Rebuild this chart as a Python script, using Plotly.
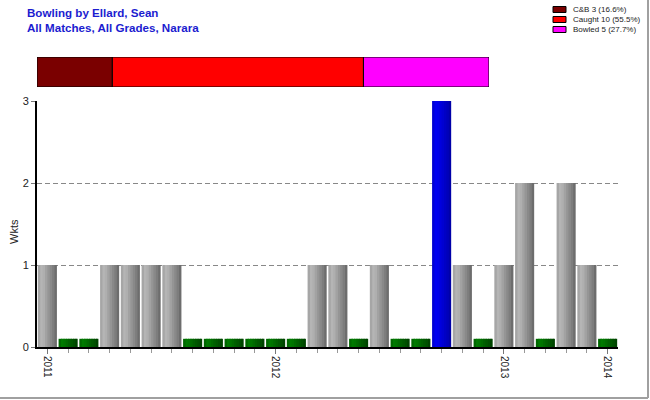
import math
import plotly.graph_objects as go

# ---------------- data ----------------
match_index = list(range(28))
wickets = [1, 0, 0, 1, 1, 1, 1, 0, 0, 0, 0, 0, 0, 1, 1, 0, 1, 0, 0, 3, 1, 0, 1, 2, 0, 2, 1, 0]
year_tick_pos = [0, 11, 22, 27]
year_tick_text = ["2011", "2012", "2013", "2014"]

dismissal_names = ["C&B", "Caught", "Bowled"]
dismissal_counts = [3, 10, 5]
dismissal_colors = ["#7a0000", "#ff0000", "#ff00ff"]

title_lines = ["Bowling by Ellard, Sean", "All Matches, All Grades, Narara"]

# ---------------- geometry helpers ----------------
W, H = 650, 400
L, R, T, B = 37, 618, 57, 347     # plot area in pixels
PW, PH = R - L, B - T


def px(x):
    return (x - L) / PW


def py(y):
    return (B - y) / PH


FONT = "Liberation Sans, Arial, sans-serif"

# styles
ZERO_STUB = 0.1
BAR_W = 0.92
gray_shades = ["#a6a6a6", "#b5b5b5", "#afafaf", "#a2a2a2", "#959595", "#898989", "#7d7d7d", "#6d6d6d"]
green_shades = ["#006800", "#007a00", "#007400", "#006a00", "#006000", "#005800", "#005000", "#004400"]
blue_shades = ["#0000d4", "#0000f0", "#0000ea", "#0000de", "#0000d2", "#0000c6", "#0000ba", "#0000a8"]
best = max(wickets)

fig = go.Figure()

n = len(gray_shades)
stripe = BAR_W / n
heights = [w if w > 0 else ZERO_STUB for w in wickets]
for k in range(n):
    cols = []
    for w in wickets:
        if w == 0:
            cols.append(green_shades[k])
        elif w == best:
            cols.append(blue_shades[k])
        else:
            cols.append(gray_shades[k])
    width = stripe * 1.6 if k < n - 1 else stripe
    fig.add_trace(go.Bar(
        x=match_index, y=heights, width=width,
        offset=-BAR_W / 2 + k * stripe,
        marker=dict(color=cols, line=dict(width=0)),
        showlegend=False, hoverinfo="skip", xaxis="x", yaxis="y",
    ))

# dismissal proportion bar
total = sum(dismissal_counts)
base = 0
for name, c, col in zip(dismissal_names, dismissal_counts, dismissal_colors):
    fig.add_trace(go.Bar(
        x=[c], y=[0], base=[base], orientation="h", width=1,
        marker=dict(color=col, line=dict(color="black", width=1)),
        showlegend=False, hoverinfo="skip", xaxis="x2", yaxis="y2",
    ))
    base += c

shapes = []
annotations = []

# manual legend
for i, (name, c, col) in enumerate(zip(dismissal_names, dismissal_counts, dismissal_colors)):
    pct = math.floor(c * 1000 / total) / 10
    y0 = 6.5 + 10 * i
    shapes.append(dict(type="rect", xref="paper", yref="paper",
                       x0=px(553), x1=px(566), y0=py(y0), y1=py(y0 + 6),
                       fillcolor=col, line=dict(color="black", width=1)))
    annotations.append(dict(xref="paper", yref="paper", x=px(571), y=py(y0 + 3),
                            xanchor="left", yanchor="middle", showarrow=False,
                            text=f"{name} {c} ({pct}%)",
                            font=dict(family=FONT, size=8, color="#222222")))

# titles
for i, t in enumerate(title_lines):
    annotations.append(dict(xref="paper", yref="paper", x=px(25), y=py(12 + 15 * i),
                            xanchor="left", yanchor="middle", showarrow=False,
                            text=f"<b>{t}</b>",
                            font=dict(family=FONT, size=11.6, color="#1c1cd0")))

# y axis title
annotations.append(dict(xref="paper", yref="paper", x=px(14), y=py(232),
                        xanchor="center", yanchor="middle", showarrow=False,
                        text="Wkts", textangle=-90,
                        font=dict(family=FONT, size=11, color="#222222")))

# outer frame (right & bottom)
shapes.append(dict(type="line", xref="paper", yref="paper",
                   x0=px(648), x1=px(648), y0=py(0), y1=py(398),
                   line=dict(color="#a0a0a0", width=2)))
shapes.append(dict(type="line", xref="paper", yref="paper",
                   x0=px(0), x1=px(648), y0=py(398), y1=py(398),
                   line=dict(color="#a0a0a0", width=2)))

main_top = py(101)
fig.update_layout(
    width=W, height=H,
    margin=dict(l=L, r=W - R, t=T, b=H - B, pad=0),
    paper_bgcolor="white", plot_bgcolor="white",
    barmode="overlay",
    showlegend=False,
    font=dict(family=FONT, size=11, color="#222222"),
    xaxis=dict(
        domain=[0, 1], range=[-0.5, len(wickets) - 0.5],
        tickvals=year_tick_pos, ticktext=year_tick_text, tickangle=90,
        ticks="outside", ticklen=5, tickcolor="#777777", tickwidth=1,
        minor=dict(ticks="outside", dtick=1, tick0=0, ticklen=4, tickcolor="#999999"),
        showline=True, linecolor="black", linewidth=2,
        showgrid=False, zeroline=False, fixedrange=True, automargin=False,
        tickfont=dict(family=FONT, size=10, color="#222222"),
    ),
    yaxis=dict(
        domain=[0, main_top], range=[0, 3], tickvals=[0, 1, 2, 3],
        ticks="outside", ticklen=4, tickcolor="#777777",
        showline=True, linecolor="black", linewidth=2,
        showgrid=True, gridcolor="#888888", griddash="5px,3px", gridwidth=1,
        zeroline=False, fixedrange=True, automargin=False,
        tickfont=dict(family=FONT, size=11, color="#222222"),
    ),
    xaxis2=dict(domain=[0, px(489)], range=[0, total], visible=False,
                anchor="y2", fixedrange=True),
    yaxis2=dict(domain=[py(87), 1], range=[-0.5, 0.5], visible=False,
                anchor="x2", fixedrange=True),
    shapes=shapes,
    annotations=annotations,
)

fig.write_html("out.html", config={"displayModeBar": False},
               post_script="document.body.style.margin='0';")
